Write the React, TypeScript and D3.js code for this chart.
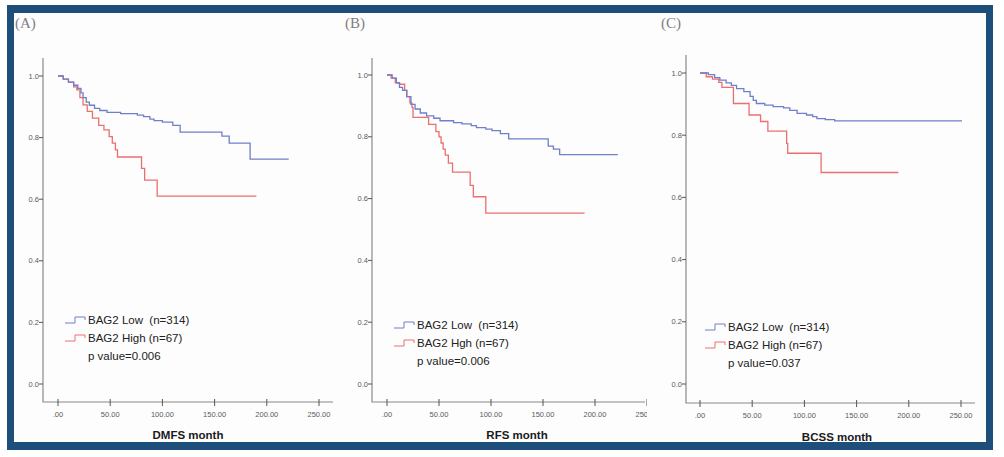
import React from "react";
import * as d3 from "d3";

// ---- Data (time in months, survival probability) ----
const dmfsLow: [number, number][] = [[0,1],[5,0.99],[10,0.98],[15,0.97],[19,0.96],[22,0.945],[24,0.93],[27,0.915],[30,0.905],[35,0.895],[40,0.888],[47,0.882],[60,0.878],[76,0.873],[82,0.868],[88,0.86],[92,0.855],[100,0.85],[110,0.84],[117,0.818],[157,0.805],[164,0.782],[184,0.73],[221,0.73]];
const dmfsHigh: [number, number][] = [[0,1],[5,0.99],[10,0.98],[15,0.965],[18,0.955],[21,0.93],[24,0.906],[28,0.885],[33,0.863],[39,0.84],[44,0.825],[49,0.803],[52,0.782],[55,0.76],[57,0.737],[80,0.7],[83,0.662],[95,0.61],[190,0.61]];
const rfsLow: [number, number][] = [[0,1],[5,0.99],[9,0.975],[12,0.96],[15,0.95],[19,0.93],[23,0.905],[27,0.89],[32,0.877],[38,0.868],[45,0.86],[51,0.852],[64,0.846],[72,0.842],[81,0.836],[86,0.83],[95,0.825],[101,0.82],[109,0.81],[117,0.793],[155,0.77],[160,0.76],[166,0.742],[222,0.742]];
const rfsHigh: [number, number][] = [[0,1],[4,0.99],[8,0.975],[12,0.97],[17,0.95],[19,0.93],[22,0.91],[24,0.895],[25,0.863],[40,0.84],[47,0.817],[50,0.8],[52,0.78],[54,0.76],[56,0.741],[59,0.715],[63,0.686],[80,0.643],[83,0.606],[95,0.553],[190,0.553]];
const bcssLow: [number, number][] = [[0,1],[8,0.995],[14,0.985],[19,0.977],[25,0.968],[30,0.96],[35,0.95],[42,0.94],[48,0.925],[51,0.912],[54,0.902],[62,0.897],[70,0.892],[80,0.888],[86,0.88],[93,0.87],[102,0.865],[108,0.86],[112,0.853],[120,0.85],[129,0.846],[251,0.846]];
const bcssHigh: [number, number][] = [[0,1],[6,0.988],[12,0.98],[18,0.97],[21,0.954],[32,0.902],[47,0.865],[58,0.844],[65,0.813],[83,0.774],[84,0.742],[116,0.68],[190,0.68]];

const xTicks = [0, 50, 100, 150, 200, 250];
const xTickLabels = [".00", "50.00", "100.00", "150.00", "200.00", "250.00"];
const yTicks = [0, 0.2, 0.4, 0.6, 0.8, 1.0];
const yTickLabels = ["0.0", "0.2", "0.4", "0.6", "0.8", "1.0"];
const panelTags = ["(A)", "(B)", "(C)"];
const axisTitles = ["DMFS month", "RFS month", "BCSS month"];
const lowLabels = ["BAG2 Low  (n=314)", "BAG2 Low  (n=314)", "BAG2 Low  (n=314)"];
const highLabels = ["BAG2 High (n=67)", "BAG2 Hgh (n=67)", "BAG2 High (n=67)"];
const pLabels = ["p value=0.006", "p value=0.006", "p value=0.037"];

const BLUE = "#6f7fc9";
const RED = "#ec6f6f";
const FRAME = "#1e4f7b";
const AXIS = "#8a8a8a";

interface PanelGeom {
  tagX: number;
  yAxisX: number;
  xAxisY: number;
  top: number;
  right: number;
  x0: number;
  x250: number;
  y1: number;
  y0: number;
  legX: number;
  legY: number;
  titleX: number;
  titleY: number;
  tickClipLast?: boolean;
}

const geoms: PanelGeom[] = [
  { tagX: 15, yAxisX: 43, xAxisY: 402, top: 58, right: 333, x0: 58, x250: 319, y1: 76, y0: 384, legX: 88, legY: 320, titleX: 188, titleY: 439 },
  { tagX: 345, yAxisX: 372, xAxisY: 402, top: 58, right: 645, x0: 387, x250: 647, y1: 75, y0: 384, legX: 417, legY: 325, titleX: 517, titleY: 439, tickClipLast: true },
  { tagX: 661, yAxisX: 686, xAxisY: 403, top: 55, right: 975, x0: 700, x250: 961, y1: 73, y0: 384, legX: 728, legY: 327, titleX: 837, titleY: 441 },
];

const seriesSets: [number, number][][][] = [
  [dmfsLow, dmfsHigh],
  [rfsLow, rfsHigh],
  [bcssLow, bcssHigh],
];

function LegendIcon({ x, y, color }: { x: number; y: number; color: string }) {
  const d = `M${x - 23},${y + 3}H${x - 13}V${y - 3}H${x - 3}V${y}`;
  return <path d={d} fill="none" stroke={color} strokeWidth={1} />;
}

function Panel({ g, idx }: { g: PanelGeom; idx: number }) {
  const xs = d3.scaleLinear().domain([0, 250]).range([g.x0, g.x250]);
  const ys = d3.scaleLinear().domain([0, 1]).range([g.y0, g.y1]);
  const line = d3
    .line<[number, number]>()
    .x((d) => xs(d[0]))
    .y((d) => ys(d[1]))
    .curve(d3.curveStepAfter);
  const [low, high] = seriesSets[idx];
  const clipId = `clip${idx}`;
  return (
    <g>
      <defs>
        <clipPath id={clipId}>
          <rect x={g.yAxisX - 40} y={0} width={g.right - g.yAxisX + 42} height={457} />
        </clipPath>
      </defs>
      <text x={g.tagX} y={28} fontFamily="Liberation Serif, serif" fontSize={15} fill="#808080">
        {panelTags[idx]}
      </text>
      {/* axes */}
      <path
        d={`M${g.yAxisX},${g.top}V${g.xAxisY}H${g.right}`}
        fill="none"
        stroke={AXIS}
        strokeWidth={1.2}
      />
      {yTicks.map((t, i) => (
        <g key={"y" + i}>
          <line x1={g.yAxisX - 4} x2={g.yAxisX} y1={ys(t)} y2={ys(t)} stroke="#555" strokeWidth={1} />
          <text
            x={g.yAxisX - 4}
            y={ys(t)}
            dy="0.35em"
            textAnchor="end"
            fontFamily="Liberation Sans, Arial, sans-serif"
            fontSize={7.5}
            fill="#5a5a5a"
          >
            {yTickLabels[i]}
          </text>
        </g>
      ))}
      <g clipPath={g.tickClipLast ? `url(#${clipId})` : undefined}>
        {xTicks.map((t, i) => (
          <g key={"x" + i}>
            <line x1={xs(t)} x2={xs(t)} y1={g.xAxisY - 3} y2={g.xAxisY + 4} stroke="#555" strokeWidth={1} />
            <text
              x={xs(t)}
              y={g.xAxisY + 15}
              textAnchor="middle"
              fontFamily="Liberation Sans, Arial, sans-serif"
              fontSize={7.5}
              fill="#5a5a5a"
            >
              {xTickLabels[i]}
            </text>
          </g>
        ))}
      </g>
      <text
        x={g.titleX}
        y={g.titleY}
        textAnchor="middle"
        fontFamily="Liberation Sans, Arial, sans-serif"
        fontWeight="bold"
        fontSize={11.5}
        fill="#1a1a1a"
      >
        {axisTitles[idx]}
      </text>
      {/* curves */}
      <path d={line(high) || ""} fill="none" stroke={RED} strokeWidth={1.3} />
      <path d={line(low) || ""} fill="none" stroke={BLUE} strokeWidth={1.3} />
      {/* legend */}
      <LegendIcon x={g.legX} y={g.legY} color={BLUE} />
      <LegendIcon x={g.legX} y={g.legY + 18} color={RED} />
      <g fontFamily="Liberation Sans, Arial, sans-serif" fontSize={11.5} fill="#222">
        <text x={g.legX} y={g.legY} dy="0.35em" style={{ whiteSpace: "pre" }}>
          {lowLabels[idx]}
        </text>
        <text x={g.legX} y={g.legY + 18} dy="0.35em" style={{ whiteSpace: "pre" }}>
          {highLabels[idx]}
        </text>
        <text x={g.legX} y={g.legY + 36} dy="0.35em">
          {pLabels[idx]}
        </text>
      </g>
    </g>
  );
}

export default function App() {
  return (
    <svg
      width={1004}
      height={457}
      style={{ position: "absolute", left: 0, top: 0, display: "block" }}
    >
      <rect x={0} y={0} width={1004} height={457} fill="#ffffff" />
      <rect x={14} y={13} width={972} height={429} fill="#fdfdfd" />
      {/* frame */}
      <rect x={7} y={5} width={986} height={8} fill={FRAME} />
      <rect x={7} y={442} width={986} height={8} fill={FRAME} />
      <rect x={7} y={5} width={7} height={445} fill={FRAME} />
      <rect x={986} y={5} width={7} height={445} fill={FRAME} />
      {geoms.map((g, i) => (
        <Panel key={i} g={g} idx={i} />
      ))}
    </svg>
  );
}
